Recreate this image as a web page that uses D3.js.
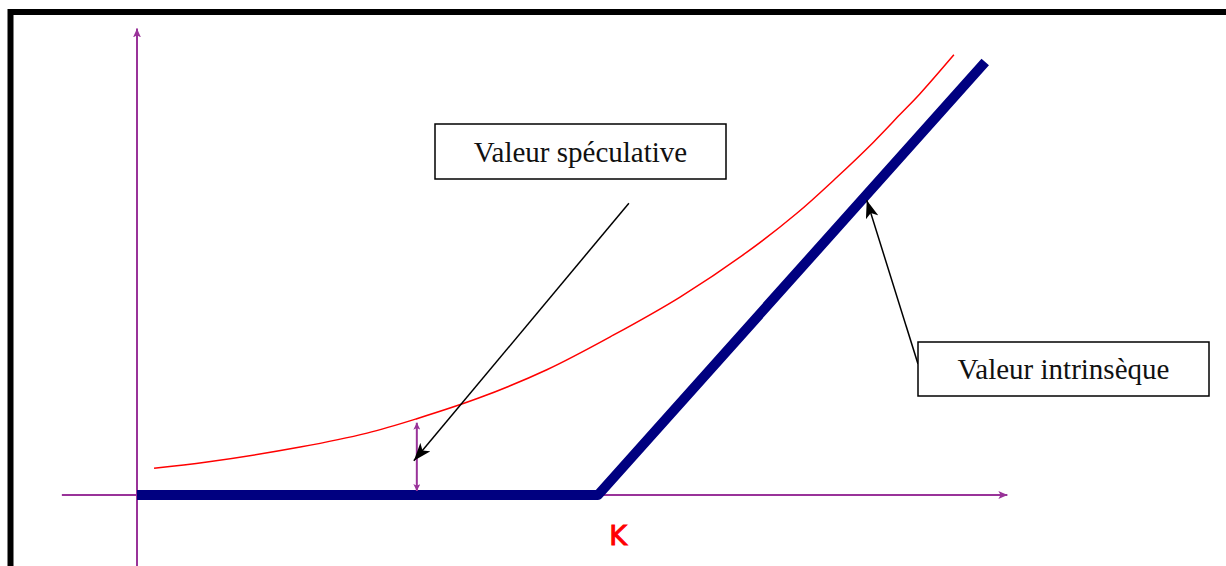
<!DOCTYPE html>
<html>
<head>
<meta charset="utf-8">
<script src="https://cdn.jsdelivr.net/npm/d3@7"></script>
<style>
  html, body { margin: 0; padding: 0; background: #fff; overflow: hidden; }
</style>
</head>
<body>
<div id="chart"></div>
<script>
// Option value vs underlying price (S)
const strike = 100;
const payoffS = [0, 100, 184];          // intrinsic value knots
const curveS = [3.7, 15.2, 35.4, 49.9, 60.7, 74.4, 88.9, 103.3, 117.8, 132.3, 143.2, 151.4, 159.7, 165.5, 169.8, 177.2];
const curveV = [5.2, 6.4, 9.3, 12.0, 14.8, 18.9, 24.3, 31.0, 38.4, 47.1, 54.7, 61.3, 68.4, 73.8, 77.8, 85.4];
const xAxisExtent = [-16.3, 188.8];
const yAxisExtent = [-14, 90.5];
const gapS = 60.7;                        // where the speculative gap is marked
const labels = ["Valeur spéculative", "Valeur intrinsèque", "K"];

const width = 1226;
const height = 566;

const x = d3.scaleLinear().domain([0, 100]).range([137, 598]);
const y = d3.scaleLinear().domain([0, 84]).range([495, 62]);

const svg = d3.select("#chart")
    .append("svg")
    .attr("width", width)
    .attr("height", height)
    .style("display", "block");

const defs = svg.append("defs");

function marker(id, color, w, h) {
    defs.append("marker")
        .attr("id", id)
        .attr("viewBox", `0 0 ${w} ${h}`)
        .attr("refX", w)
        .attr("refY", h / 2)
        .attr("markerUnits", "userSpaceOnUse")
        .attr("markerWidth", w)
        .attr("markerHeight", h)
        .attr("orient", "auto-start-reverse")
        .append("path")
        .attr("d", `M0,0L${w},${h / 2}L0,${h}L${w * 0.25},${h / 2}Z`)
        .attr("fill", color);
}
marker("arrPurple", "#993399", 9, 8);
marker("arrSmall", "#993399", 7, 7);
marker("arrBlack", "#000", 18, 13);

svg.append("rect")
    .attr("width", width).attr("height", height)
    .attr("fill", "#fff");

// frame
svg.append("rect")
    .attr("x", 10.5).attr("y", 12)
    .attr("width", 1400).attr("height", 800)
    .attr("fill", "none")
    .attr("stroke", "#000")
    .attr("stroke-width", 6);

// -- axes --
const purple = "#993399";
svg.append("line")
    .attr("x1", x(xAxisExtent[0])).attr("x2", x(xAxisExtent[1]))
    .attr("y1", y(0)).attr("y2", y(0))
    .attr("stroke", purple).attr("stroke-width", 2)
    .attr("marker-end", "url(#arrPurple)");

svg.append("line")
    .attr("x1", x(0)).attr("x2", x(0))
    .attr("y1", y(yAxisExtent[0])).attr("y2", y(yAxisExtent[1]))
    .attr("stroke", purple).attr("stroke-width", 2)
    .attr("marker-end", "url(#arrPurple)");

// -- speculative value curve --
const curveData = curveS.map((s, i) => [s, curveV[i]]);
const line = d3.line()
    .x(d => x(d[0]))
    .y(d => y(d[1]))
    .curve(d3.curveCatmullRom.alpha(0.5));

svg.append("path")
    .datum(curveData)
    .attr("d", line)
    .attr("fill", "none")
    .attr("stroke", "#ff0000")
    .attr("stroke-width", 1.5);

// -- intrinsic value (payoff) --
const payoff = payoffS.map(s => [s, Math.max(0, s - strike)]);
svg.append("path")
    .datum(payoff)
    .attr("d", d3.line().x(d => x(d[0])).y(d => y(d[1])))
    .attr("fill", "none")
    .attr("stroke", "#000080")
    .attr("stroke-width", 10)
    .attr("stroke-linejoin", "round");

// gap between curve and payoff
const gapV = curveV[curveS.indexOf(gapS)];
svg.append("line")
    .attr("x1", x(gapS)).attr("x2", x(gapS))
    .attr("y1", y(0) - 4).attr("y2", y(gapV) + 4)
    .attr("stroke", purple).attr("stroke-width", 2)
    .attr("marker-start", "url(#arrSmall)")
    .attr("marker-end", "url(#arrSmall)");

// -- labels --
svg.append("text")
    .attr("x", x(strike) + 20)
    .attr("y", y(0) + 50)
    .attr("text-anchor", "middle")
    .attr("fill", "#ff0000")
    .attr("stroke", "#ff0000")
    .attr("stroke-width", 1)
    .style("font-family", "DejaVu Sans, sans-serif")
    .style("font-size", "27px")
    .text(labels[2]);

function callout(text, box, from, to) {
    svg.append("line")
        .attr("x1", from[0]).attr("y1", from[1])
        .attr("x2", to[0]).attr("y2", to[1])
        .attr("stroke", "#000").attr("stroke-width", 1.5)
        .attr("marker-end", "url(#arrBlack)");
    svg.append("rect")
        .attr("x", box[0]).attr("y", box[1])
        .attr("width", box[2]).attr("height", box[3])
        .attr("fill", "#fff")
        .attr("stroke", "#000").attr("stroke-width", 1.5);
    svg.append("text")
        .attr("x", box[0] + box[2] / 2)
        .attr("y", box[1] + box[3] / 2 + 10)
        .attr("text-anchor", "middle")
        .style("font-family", "Liberation Serif, serif")
        .style("font-size", "29px")
        .attr("fill", "#111")
        .text(text);
}

callout(labels[0],
    [435, 124, 291, 55],
    [x(106.7), y(56.6)],
    [x(gapS) - 3, y(gapV / 2) + 4]);

callout(labels[1],
    [918, 342, 291, 54],
    [918, 364],
    [x(158.3), y(57.2)]);
</script>
</body>
</html>
